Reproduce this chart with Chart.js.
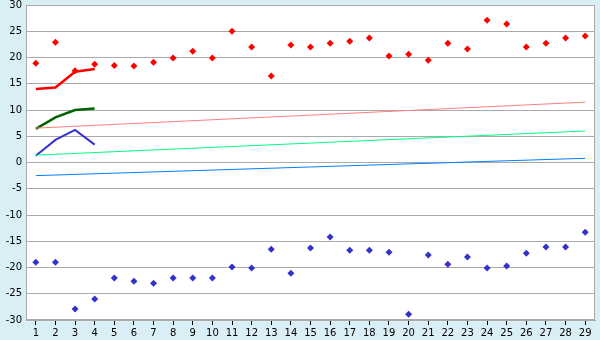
<!DOCTYPE html>
<html>
<head>
<meta charset="utf-8">
<script src="https://cdn.jsdelivr.net/npm/chart.js@4/dist/chart.umd.min.js"></script>
<style>
  html, body { margin: 0; padding: 0; background: #daeff5; }
  #wrap { width: 600px; height: 340px; position: relative; }
</style>
</head>
<body>
<div id="wrap"><canvas id="chart"></canvas></div>
<script>
// categories 1..29
const labels = ['1','2','3','4','5','6','7','8','9','10','11','12','13','14','15','16','17','18','19','20','21','22','23','24','25','26','27','28','29'];

// scattered points
const upperPoints = [18.9, 22.9, 17.5, 18.7, 18.5, 18.4, 19.1, 19.9, 21.2, 19.9, 25.0, 22.0, 16.5, 22.4, 22.0, 22.7, 23.1, 23.7, 20.3, 20.6, 19.5, 22.7, 21.6, 27.1, 26.4, 22.0, 22.7, 23.7, 24.1];
const lowerPoints = [-19.0, -19.0, -27.9, -26.0, -22.0, -22.6, -23.0, -22.0, -22.0, -22.0, -19.9, -20.1, -16.5, -21.1, -16.3, -14.2, -16.7, -16.7, -17.1, -28.9, -17.6, -19.4, -18.0, -20.1, -19.7, -17.3, -16.1, -16.1, -13.3];

// short thick lines over the first four categories
const redLine = [14.0, 14.3, 17.3, 17.8];
const greenLine = [6.4, 8.6, 10.0, 10.3];
const blueLine = [1.3, 4.3, 6.2, 3.4];

// thin trend lines: value at first and last category
const pinkTrend = [6.55, 11.5];
const greenTrend = [1.4, 6.0];
const blueTrend = [-2.5, 0.8];

const yTicks = [-30, -25, -20, -15, -10, -5, 0, 5, 10, 15, 20, 25, 30];

const first = labels[0];
const last = labels[labels.length - 1];
const trend = (vals) => [{ x: first, y: vals[0] }, { x: last, y: vals[1] }];

const bgPlugin = {
  id: 'bg',
  beforeDraw(chart) {
    const { ctx, chartArea: a } = chart;
    ctx.save();
    ctx.fillStyle = '#daeff5';
    ctx.fillRect(0, 0, chart.width, chart.height);
    ctx.fillStyle = '#ffffff';
    ctx.fillRect(a.left, a.top, a.right - a.left, a.bottom - a.top);
    ctx.restore();
  },
  afterDatasetsDraw(chart) {
    const { ctx, chartArea: a } = chart;
    ctx.save();
    ctx.strokeStyle = '#aaaaaa';
    ctx.lineWidth = 1;
    ctx.strokeRect(Math.round(a.left) + 0.5, Math.round(a.top) + 0.5, Math.round(a.right - a.left) - 1, Math.round(a.bottom - a.top) - 1);
    ctx.restore();
  }
};

const lineDs = (data, color, width) => ({
  type: 'line',
  data: data,
  borderColor: color,
  backgroundColor: color,
  borderWidth: width,
  pointRadius: 0,
  tension: 0,
  fill: false
});

const pointDs = (data, color) => ({
  type: 'line',
  data: data,
  showLine: false,
  pointStyle: 'rectRot',
  pointRadius: 3.5,
  pointBorderWidth: 0,
  pointBackgroundColor: color,
  borderColor: color
});

new Chart(document.getElementById('chart'), {
  type: 'line',
  data: {
    labels: labels,
    datasets: [
      lineDs(trend(pinkTrend), '#ff8080', 1),
      lineDs(trend(greenTrend), '#00ff80', 1),
      lineDs(trend(blueTrend), '#0080ff', 1),
      lineDs(redLine, '#ff0000', 2.5),
      lineDs(greenLine, '#006400', 2.5),
      lineDs(blueLine, '#3333cc', 2),
      pointDs(upperPoints, '#ff0000'),
      pointDs(lowerPoints, '#3333cc')
    ]
  },
  options: {
    responsive: true,
    maintainAspectRatio: false,
    animation: false,
    layout: { padding: { top: 5, right: 5, left: 0, bottom: 0 } },
    plugins: {
      legend: { display: false },
      tooltip: { enabled: false }
    },
    scales: {
      x: {
        type: 'category',
        offset: true,
        grid: {
          offset: false,
          drawOnChartArea: false,
          drawTicks: true,
          tickLength: 5,
          tickColor: '#000000'
        },
        border: { color: '#aaaaaa' },
        ticks: {
          color: '#000000',
          font: { family: 'DejaVu Sans', size: 10 },
          padding: 2,
          maxRotation: 0,
          autoSkip: false
        },
        afterFit(scale) {
          scale.height = 20;
          scale.paddingLeft = 0;
          scale.paddingRight = 0;
        }
      },
      y: {
        min: -30,
        max: 30,
        afterBuildTicks(scale) { scale.ticks = yTicks.map(v => ({ value: v })); },
        grid: { color: '#aaaaaa', drawTicks: false },
        border: { color: '#aaaaaa' },
        ticks: {
          color: '#000000',
          font: { family: 'DejaVu Sans', size: 10 },
          padding: 4
        },
        afterFit(scale) {
          scale.width = 26;
          scale.paddingTop = 0;
          scale.paddingBottom = 0;
        }
      }
    }
  },
  plugins: [bgPlugin]
});
</script>
</body>
</html>
